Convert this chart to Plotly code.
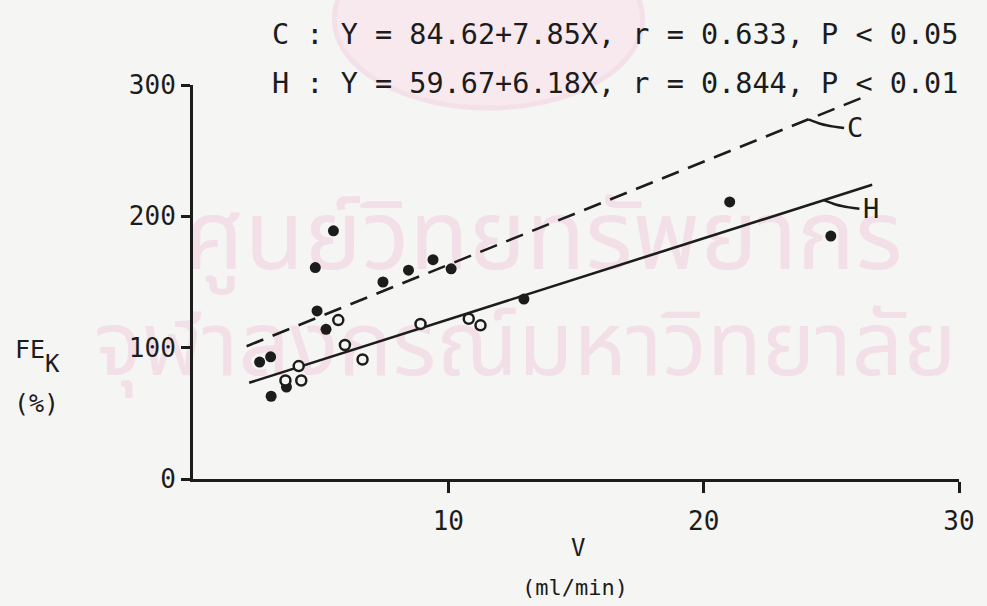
import plotly.graph_objects as go

# Fractional potassium excretion vs urine flow, two groups
c_v = [2.61, 3.04, 3.06, 3.66, 4.79, 4.86, 5.21, 5.50, 7.44, 8.44, 9.40, 10.11, 12.96, 21.02, 24.98]
c_fe = [89, 93, 63, 70, 161, 128, 114, 189, 150, 159, 167, 160, 137, 211, 185]
h_v = [3.62, 4.14, 4.24, 5.69, 5.95, 6.64, 8.91, 10.80, 11.26]
h_fe = [75, 86, 75, 121, 102, 91, 118, 122, 117]

# Regression lines: intercept, slope, x extent
c_fit = (84.62, 7.85)
h_fit = (59.67, 6.18)
c_span = [2.1, 26.3]
h_span = [2.2, 26.6]

x_ticks = [10, 20, 30]
y_ticks = [0, 100, 200, 300]

W, H = 987, 606
ML, MR, MT, MB = 193, 24, 85, 127
INK = "#1c1c1c"
PAPER = "#f5f5f3"
MONO = "DejaVu Sans Mono"
X_RANGE = [0, 30]
Y_RANGE = [0, 300]


def paper(px, py):
    return (px - ML) / (W - ML - MR), (H - MB - py) / (H - MT - MB)


def data(px, py):
    fx, fy = paper(px, py)
    return (X_RANGE[0] + fx * (X_RANGE[1] - X_RANGE[0]),
            Y_RANGE[0] + fy * (Y_RANGE[1] - Y_RANGE[0]))


def fit(f, x):
    return f[0] + f[1] * x


fig = go.Figure()

# faint library watermark behind everything
wm_color = "#f2dfe7"
fig.add_shape(type="circle", xref="paper", yref="paper",
              x0=paper(335, 0)[0], x1=paper(645, 0)[0],
              y0=paper(0, 108)[1], y1=paper(0, -70)[1],
              fillcolor="#f8e9ee", line=dict(color="#f4e0e8", width=5), layer="below")
for txt, cx, cy, sz in [("ศูนย์วิทยทรัพยากร", 545, 245, 97),
                        ("จุฬาลงกรณ์มหาวิทยาลัย", 527, 352, 90)]:
    dx, dy = data(cx, cy)
    fig.add_trace(go.Scatter(x=[dx], y=[dy], mode="text", text=[txt],
                             textposition="middle center", cliponaxis=False,
                             textfont=dict(family="Noto Sans Thai, DejaVu Sans, sans-serif",
                                           size=sz, color=wm_color),
                             showlegend=False, hoverinfo="skip"))

# regression lines
fig.add_trace(go.Scatter(x=c_span, y=[fit(c_fit, v) for v in c_span], mode="lines",
                         line=dict(color=INK, width=2.6, dash="18px,10px"),
                         showlegend=False, hoverinfo="skip"))
fig.add_trace(go.Scatter(x=h_span, y=[fit(h_fit, v) for v in h_span], mode="lines",
                         line=dict(color=INK, width=2.6),
                         showlegend=False, hoverinfo="skip"))

# small leader hooks to the line labels
for f, xs, lab in [(c_fit, 24.1, "C"), (h_fit, 24.7, "H")]:
    y0 = fit(f, xs)
    hook_x = [xs, xs + 0.5, xs + 1.0, xs + 1.4]
    hook_y = [y0, y0 - 3.5, y0 - 5.5, y0 - 6.5]
    fig.add_trace(go.Scatter(x=hook_x, y=hook_y, mode="lines",
                             line=dict(color=INK, width=2.4, shape="spline"),
                             showlegend=False, hoverinfo="skip"))
    fig.add_annotation(x=xs + 1.45, y=y0 - 6.5, text=lab, xanchor="left", yanchor="middle",
                       showarrow=False, font=dict(family=MONO, size=27, color=INK))

# data points
fig.add_trace(go.Scatter(x=c_v, y=c_fe, mode="markers", name="C",
                         marker=dict(size=11, color=INK, line=dict(width=0)),
                         showlegend=False))
fig.add_trace(go.Scatter(x=h_v, y=h_fe, mode="markers", name="H",
                         marker=dict(size=10, color=PAPER, line=dict(width=2.5, color=INK)),
                         showlegend=False))

# equations at the top
for txt, py in [("C : Y = 84.62+7.85X, r = 0.633, P < 0.05", 35),
                ("H : Y = 59.67+6.18X, r = 0.844, P < 0.01", 84)]:
    ax, ay = paper(270, py)
    fig.add_annotation(x=ax, y=ay, xref="paper", yref="paper", text=txt,
                       xanchor="left", yanchor="middle", showarrow=False,
                       font=dict(family=MONO, size=28.5, color=INK))

# axis titles
for txt, cxp, cyp, sz, anchor in [("FE", 12, 349, 25, "left"),
                                  ("K", 42, 364, 24, "left"),
                                  ("(%)", 11, 403, 25, "left"),
                                  ("V", 580, 548, 24, "center"),
                                  ("(ml/min)", 577, 587, 22, "center")]:
    ax, ay = paper(cxp, cyp)
    fig.add_annotation(x=ax, y=ay, xref="paper", yref="paper", text=txt,
                       xanchor=anchor, yanchor="middle", showarrow=False,
                       font=dict(family=MONO, size=sz, color=INK))

fig.update_layout(
    width=W, height=H, autosize=False,
    margin=dict(l=ML, r=MR, t=MT, b=MB),
    paper_bgcolor=PAPER, plot_bgcolor="rgba(0,0,0,0)",
    xaxis=dict(range=X_RANGE, tickvals=x_ticks, ticks="outside", ticklen=11, tickwidth=2.5,
               tickcolor=INK, showline=True, linewidth=3, linecolor=INK, showgrid=False,
               zeroline=False, ticklabelstandoff=6,
               tickfont=dict(family=MONO, size=26, color=INK)),
    yaxis=dict(range=Y_RANGE, tickvals=y_ticks, ticks="outside", ticklen=9, tickwidth=2.5,
               tickcolor=INK, showline=True, linewidth=3, linecolor=INK, showgrid=False,
               zeroline=False, tickfont=dict(family=MONO, size=26, color=INK)),
)

fig.write_html("out.html")
